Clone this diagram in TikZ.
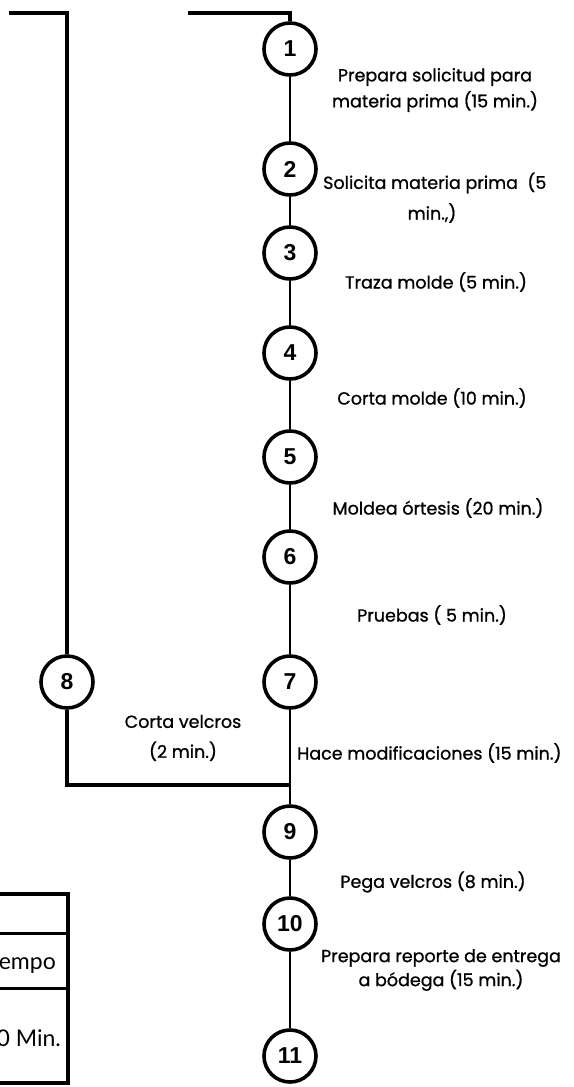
\documentclass[tikz,border=0pt]{standalone}
\usepackage{fontspec}
\setmainfont{Poppins}
\newfontfamily\labelfont[FakeBold=0.9]{Poppins}
\newfontfamily\digitfont{Liberation Sans}
\newfontfamily\tablefont{Lato}
\begin{document}
\begin{tikzpicture}[x=1pt,y=-1pt,
  op/.style={circle,draw,line width=3.6pt,minimum size=52pt,inner sep=0pt,fill=white,
    font=\digitfont\bfseries\fontsize{23}{23}\selectfont},
  flow/.style={line width=2.8pt},
  frame/.style={line width=3.6pt},
  lbl/.style={font=\labelfont\fontsize{17.5}{26}\selectfont,align=center,inner sep=0pt},
  cell/.style={font=\tablefont\fontsize{23}{24}\selectfont,anchor=east,inner sep=0pt}]
\useasboundingbox (0,0) rectangle (573,1087);
\clip (0,0) rectangle (573,1087);

% operations on the main column
\node[op] (n1)  at (290,49)   {1};
\node[op] (n2)  at (290,169)  {2};
\node[op] (n3)  at (290,253)  {3};
\node[op] (n4)  at (290,353)  {4};
\node[op] (n5)  at (290,457)  {5};
\node[op] (n6)  at (290,557)  {6};
\node[op] (n7)  at (290,682)  {7};
\node[op] (n8)  at (67,682)   {8};
\node[op] (n9)  at (290,832)  {9};
\node[op] (n10) at (290,924)  {10};
\node[op] (n11) at (290,1056) {11};

% free ends and the joining point
\coordinate (inR) at (188,13);
\coordinate (inL) at (9,13);
\coordinate (join) at (290,785);

% connectors
\draw[frame] (inR) -| (n1);
\draw[frame] (inL) -| (n8);
\draw[flow] (n1) -- (n2) (n2) -- (n3) (n3) -- (n4) (n4) -- (n5)
            (n5) -- (n6) (n6) -- (n7) (n7) -- (n9) (n9) -- (n10) (n10) -- (n11);
\draw[frame] (n8) |- (join);

% activity labels
\node[lbl] (t1)  at (435,90)  {Prepara solicitud para\\materia prima (15 min.)};
\node[lbl,anchor=west] (t2a) at (323,183) {Solicita materia prima\ \ (5};
\node[lbl] (t2b) at (432,213) {min.,)};
\node[lbl] (t3)  at (436,282) {Traza molde (5 min.)};
\node[lbl] (t4)  at (432,398) {Corta molde (10 min.)};
\node[lbl] (t5)  at (438,508) {Moldea órtesis (20 min.)};
\node[lbl] (t6)  at (432,615) {Pruebas ( 5 min.)};
\node[lbl,font=\labelfont\fontsize{17.5}{30}\selectfont] (t8) at (183,738) {Corta velcros\\(2 min.)};
\node[lbl,anchor=west] (t7) at (297,753) {Hace modificaciones (15 min.)};
\node[lbl] (t9)  at (433,882) {Pega velcros (8 min.)};
\node[lbl,font=\labelfont\fontsize{17.5}{24}\selectfont] (t10) at (441,970) {Prepara reporte de entrega\\a bódega (15 min.)};

% summary table at the lower left, running past the left edge
\draw[line width=4pt] (-5,894) -- (68,894) -- (68,1083) -- (-5,1083);
\draw[line width=3pt] (-5,933) -- (68,933);
\draw[line width=3pt] (-5,988) -- (68,988);
\node[cell] (c1) at (56,963)  {Tiempo};
\node[cell] (c2) at (61,1038) {100 Min.};
\end{tikzpicture}
\end{document}
